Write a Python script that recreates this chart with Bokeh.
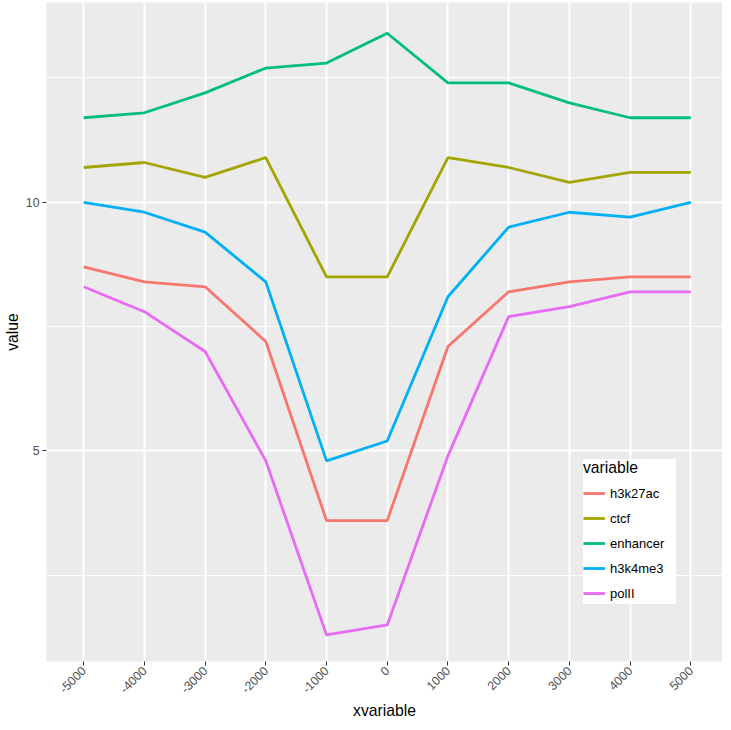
from bokeh.plotting import figure
from bokeh.models import Range1d, FixedTicker, Legend, LegendItem
from bokeh.embed import file_html
from bokeh.resources import INLINE
from math import pi

# ---- data ----
xvariable = [-5000, -4000, -3000, -2000, -1000, 0, 1000, 2000, 3000, 4000, 5000]
x_tick_labels = ["-5000", "-4000", "-3000", "-2000", "-1000", "0",
                 "1000", "2000", "3000", "4000", "5000"]
series_names = ["h3k27ac", "ctcf", "enhancer", "h3k4me3", "polII"]
h3k27ac = [8.7, 8.4, 8.3, 7.2, 3.6, 3.6, 7.1, 8.2, 8.4, 8.5, 8.5]
ctcf = [10.7, 10.8, 10.5, 10.9, 8.5, 8.5, 10.9, 10.7, 10.4, 10.6, 10.6]
enhancer = [11.7, 11.8, 12.2, 12.7, 12.8, 13.4, 12.4, 12.4, 12.0, 11.7, 11.7]
h3k4me3 = [10.0, 9.8, 9.4, 8.4, 4.8, 5.2, 8.1, 9.5, 9.8, 9.7, 10.0]
polII = [8.3, 7.8, 7.0, 4.8, 1.3, 1.5, 4.9, 7.7, 7.9, 8.2, 8.2]
series_values = [h3k27ac, ctcf, enhancer, h3k4me3, polII]
series_colors = ["#F8766D", "#A3A500", "#00BF7D", "#00B0F6", "#E76BF3"]
y_ticks = [5, 10]
y_minor_ticks = [2.5, 7.5, 12.5]

FONT = "Liberation Sans"

p = figure(width=722, height=722, output_backend="svg", toolbar_location=None,
           x_range=Range1d(-5612, 5522), y_range=Range1d(0.765, 14.018),
           min_border_left=42, min_border_right=0, min_border_top=2,
           min_border_bottom=60,
           background_fill_color="#EBEBEB", border_fill_color="white")
p.outline_line_color = None

# grids
p.xgrid.grid_line_color = "white"
p.xgrid.grid_line_width = 2
p.ygrid.grid_line_color = "white"
p.ygrid.grid_line_width = 2
p.ygrid.minor_grid_line_color = "white"
p.ygrid.minor_grid_line_width = 1.2

# axes
p.xaxis.ticker = FixedTicker(ticks=xvariable)
p.xaxis.major_label_overrides = {x: s for x, s in zip(xvariable, x_tick_labels)}
p.xaxis.major_label_orientation = pi / 4
p.yaxis.ticker = FixedTicker(ticks=y_ticks, minor_ticks=y_minor_ticks)
for ax in (p.xaxis, p.yaxis):
    ax.axis_line_color = None
    ax.minor_tick_line_color = None
    ax.major_tick_in = 0
    ax.major_tick_out = 4
    ax.major_tick_line_color = "#333333"
    ax.major_tick_line_width = 1
    ax.major_label_text_font = FONT
    ax.major_label_text_font_size = "12.3px"
    ax.major_label_text_color = "#4D4D4D"
    ax.major_label_standoff = 3
    ax.axis_label_text_font = FONT
    ax.axis_label_text_font_size = "15.7px"
    ax.axis_label_text_font_style = "normal"
    ax.axis_label_text_color = "black"
    ax.axis_label_standoff = 2
p.xaxis.axis_label = "xvariable"
p.yaxis.axis_label = "value"

items = []
for name, vals, col in zip(series_names, series_values, series_colors):
    r = p.line(xvariable, vals, line_color=col, line_width=2.8)
    items.append(LegendItem(label=name, renderers=[r]))

legend = Legend(items=items, location=(537, 57), title="variable",
                title_text_font=FONT, title_text_font_size="15.7px",
                title_text_font_style="normal", title_text_color="black",
                title_standoff=5,
                label_text_font=FONT, label_text_font_size="13px",
                label_text_color="black", label_standoff=5,
                glyph_width=22, glyph_height=22, label_height=22,
                label_width=66,
                spacing=3, padding=10, margin=0,
                background_fill_color="white", background_fill_alpha=1.0,
                border_line_color=None)
p.add_layout(legend)

open("out.html", "w").write(file_html(p, INLINE))
